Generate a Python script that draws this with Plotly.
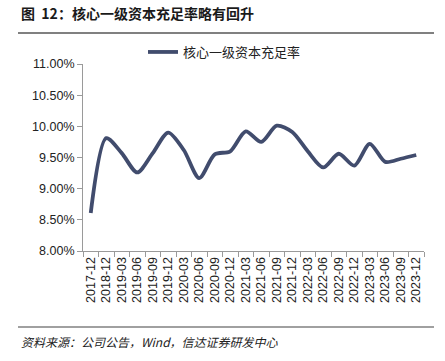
import plotly.graph_objects as go

categories = ["2017-12", "2018-12", "2019-03", "2019-06", "2019-09", "2019-12",
              "2020-03", "2020-06", "2020-09", "2020-12", "2021-03", "2021-06",
              "2021-09", "2021-12", "2022-03", "2022-06", "2022-09", "2022-12",
              "2023-03", "2023-06", "2023-09", "2023-12"]
cet1_ratio = [8.61, 9.81, 9.57, 9.26, 9.57, 9.90, 9.62, 9.17, 9.55, 9.60, 9.92, 9.75,
              10.01, 9.91, 9.60, 9.34, 9.56, 9.37, 9.72, 9.43, 9.48, 9.54]
y_ticks = [8.0, 8.5, 9.0, 9.5, 10.0, 10.5, 11.0]
y_tick_labels = ["%.2f%%" % v for v in y_ticks]

series_name = "核心一级资本充足率"
title_text = "图  12：核心一级资本充足率略有回升"
source_text = "资料来源：公司公告，Wind，信达证券研发中心"

fig = go.Figure()
fig.add_trace(go.Scatter(
    x=categories, y=cet1_ratio, mode="lines", name=series_name,
    line=dict(color="#414c6d", width=3.8, shape="spline", smoothing=0.8),
    hoverinfo="skip",
))

W, H = 445, 361
L, R, T, B = 83, 21, 64, 110
pw, ph = W - L - R, H - T - B

def px_x(x):
    return (x - L) / pw

def px_y(y):
    return (H - B - y) / ph

fig.update_layout(
    width=W, height=H,
    margin=dict(l=L, r=R, t=T, b=B, autoexpand=False),
    paper_bgcolor="white", plot_bgcolor="white",
    font=dict(family="Liberation Sans, Arial, sans-serif", color="#222222"),
    showlegend=True,
    hovermode=False,
    legend=dict(orientation="h", x=px_x(143), y=px_y(52), xanchor="left", yanchor="middle",
                font=dict(family="Noto Sans CJK SC", size=13, color="#222222"),
                itemwidth=30, bgcolor="rgba(0,0,0,0)"),
    xaxis=dict(type="category", tickangle=-90, showline=True, linecolor="#9a9a9a",
               linewidth=1, ticks="outside", ticklen=5, tickcolor="#9a9a9a",
               tickson="boundaries", showgrid=False, range=[-0.5, 21.5],
               automargin=False,
               tickfont=dict(size=12.5, color="#222222")),
    yaxis=dict(range=[8.0, 11.0], tickvals=y_ticks, ticktext=y_tick_labels,
               showline=True, linecolor="#9a9a9a", linewidth=1, ticks="outside",
               ticklen=5, tickcolor="#9a9a9a", showgrid=False, zeroline=False,
               automargin=False,
               tickfont=dict(size=12.5, color="#222222")),
)

fig.add_annotation(text="<b>" + title_text + "</b>", xref="paper", yref="paper",
                   x=px_x(19), y=px_y(13), xanchor="left", yanchor="middle",
                   showarrow=False, font=dict(family="Noto Sans CJK SC", size=14, color="#1a1a1a"))
fig.add_annotation(text="<i>" + source_text + "</i>", xref="paper", yref="paper",
                   x=px_x(19), y=px_y(341), xanchor="left", yanchor="middle",
                   showarrow=False, font=dict(family="Noto Sans CJK SC", size=12, color="#222222"))

fig.add_shape(type="line", xref="paper", yref="paper", x0=px_x(18), x1=px_x(434),
              y0=px_y(33), y1=px_y(33), line=dict(color="#808080", width=2))
fig.add_shape(type="line", xref="paper", yref="paper", x0=px_x(18), x1=px_x(434),
              y0=px_y(327), y1=px_y(327), line=dict(color="#808080", width=1.5))

fig.write_html("out.html", config={"displayModeBar": False},
               post_script="document.body.style.margin='0px';document.body.style.overflow='hidden';")
